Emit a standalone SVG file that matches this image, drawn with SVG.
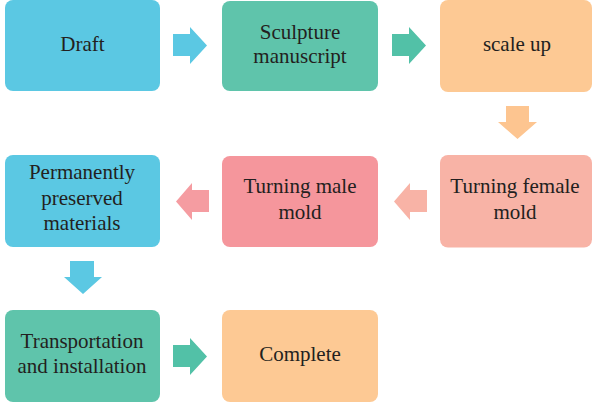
<svg xmlns="http://www.w3.org/2000/svg" width="592" height="407" viewBox="0 0 592 407">
<style>
text{font-family:"Liberation Serif","Times New Roman",serif;font-size:21px;fill:#231F20;text-anchor:middle}
.blue{fill:#5BC8E3}.green{fill:#5FC4AB}.orange{fill:#FDC994}.pink{fill:#F5969C}.salmon{fill:#F8B3A6}
</style>
<rect width="592" height="407" fill="#FFFFFF"/>
<g id="connectors">
<polygon class="blue" points="173,34 190,34 190,27 207,45.5 190,64 190,56 173,56"/>
<polygon fill="#52C1A7" points="392,34 409,34 409,27 426,45.5 409,64 409,56 392,56"/>
<polygon fill="#FDC590" points="506,106 529,106 529,122 537,122 517.5,139 498,122 506,122"/>
<polygon fill="#F59CA1" points="209,190 192,190 192,183 176,201.5 192,220 192,212 209,212"/>
<polygon class="salmon" points="427,190 410,190 410,183 394,201.5 410,220 410,212 427,212"/>
<polygon class="blue" points="70,261 94,261 94,277 102,277 83,294 64,277 70,277"/>
<polygon fill="#52C1A7" points="173,345 190,345 190,338 207,356.5 190,375 190,367 173,367"/>
</g>
<g id="n1"><rect class="blue" x="5" y="0" width="155" height="91" rx="8"/><text x="82.5" y="51">Draft</text></g>
<g id="n2"><rect class="green" x="222" y="1" width="156" height="90" rx="8"/><text x="300" y="39">Sculpture</text><text x="300" y="63">manuscript</text></g>
<g id="n3"><rect class="orange" x="440" y="0" width="152" height="92" rx="8"/><text x="517" y="51">scale up</text></g>
<g id="n4"><rect class="salmon" x="440" y="155" width="152" height="92.5" rx="8"/><text x="515" y="193">Turning female</text><text x="515" y="219">mold</text></g>
<g id="n5"><rect class="pink" x="222" y="156" width="156" height="91" rx="8"/><text x="300" y="193">Turning male</text><text x="300" y="219">mold</text></g>
<g id="n6"><rect class="blue" x="5" y="155" width="155" height="92" rx="8"/><text x="82" y="179">Permanently</text><text x="82" y="205">preserved</text><text x="82" y="230">materials</text></g>
<g id="n7"><rect class="green" x="5" y="310" width="155" height="92" rx="8"/><text x="82" y="348">Transportation</text><text x="82" y="373">and installation</text></g>
<g id="n8"><rect class="orange" x="222" y="310" width="156" height="92" rx="8"/><text x="300" y="361">Complete</text></g>
</svg>
